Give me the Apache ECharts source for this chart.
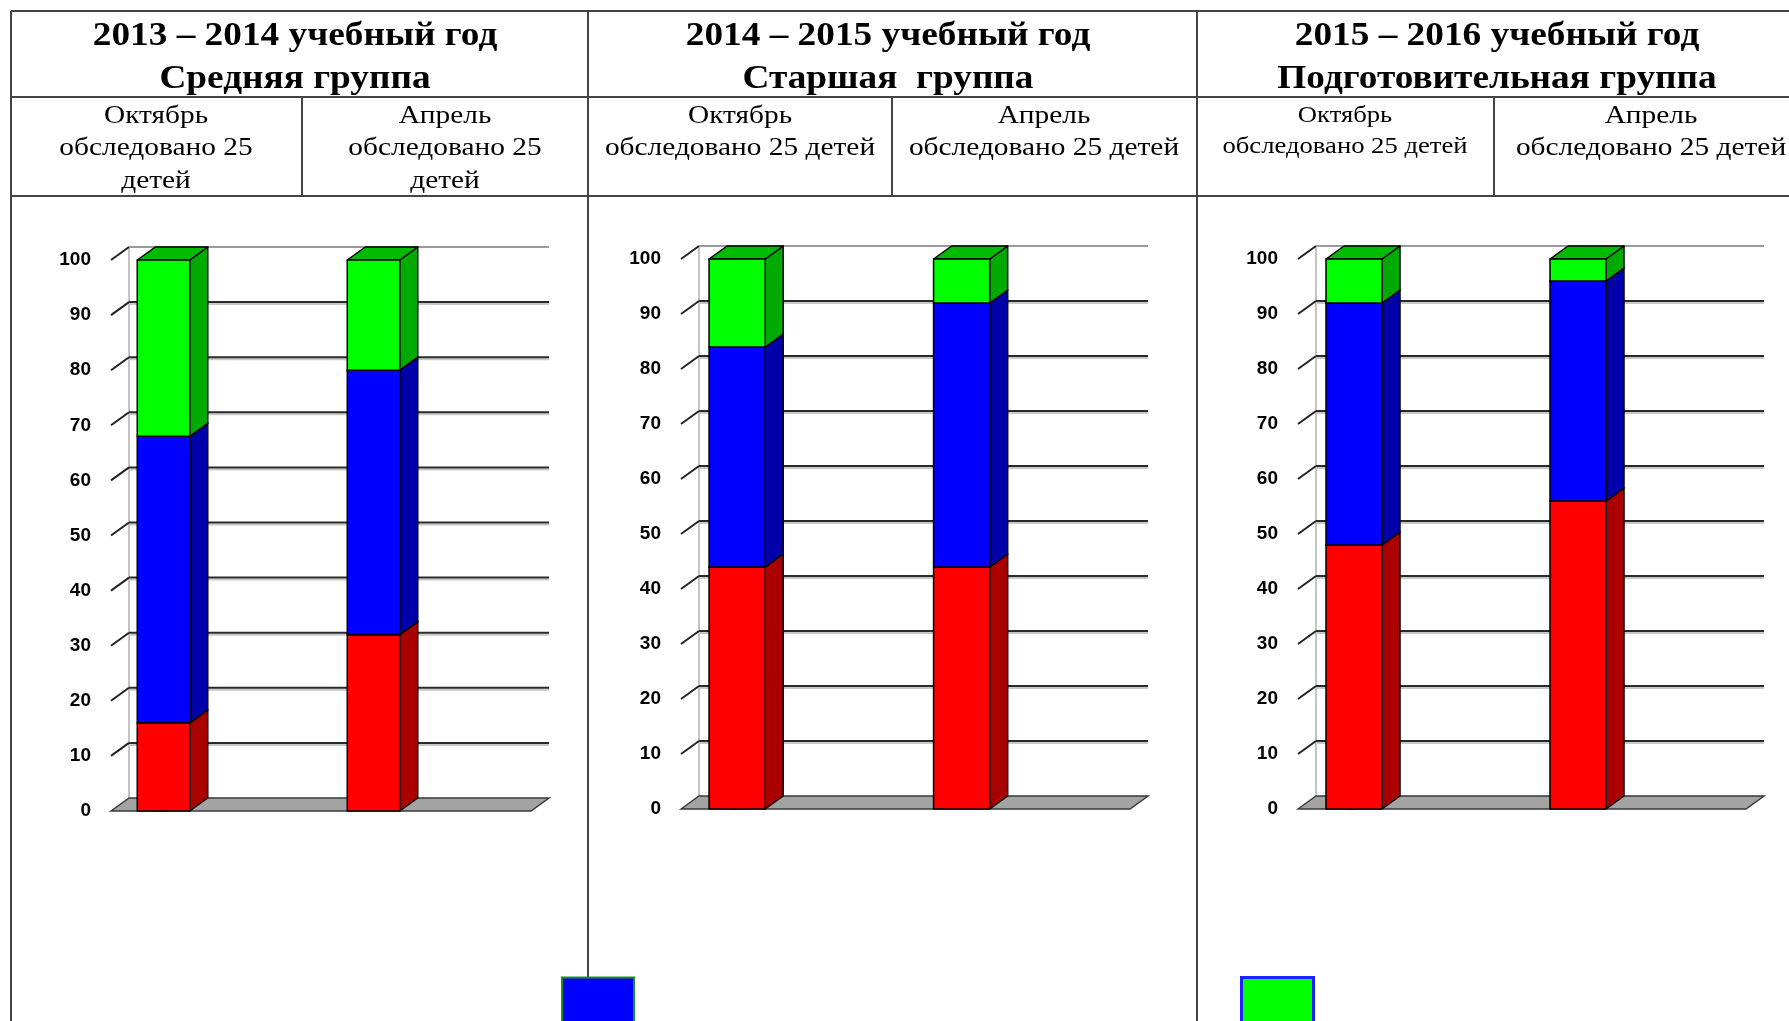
<!DOCTYPE html>
<html>
<head>
<meta charset="utf-8">
<script src="https://cdn.jsdelivr.net/npm/echarts@6/dist/echarts.min.js"></script>
<style>
html,body{margin:0;padding:0;background:#fff;}
#chart{width:1789px;height:1021px;}
</style>
</head>
<body>
<div id="chart"></div>
<script>
// ---------------- DATA ----------------
const categories = ['Октябрь', 'Апрель'];
const yearTitles = ['2013 – 2014 учебный год', '2014 – 2015 учебный год', '2015 – 2016 учебный год'];
const groupTitles = ['Средняя группа', 'Старшая  группа', 'Подготовительная группа'];
const examined = 'обследовано 25 детей';
const seriesNames = ['Высокий уровень', 'Средний уровень', 'Низкий уровень'];
const yTicks = [0, 10, 20, 30, 40, 50, 60, 70, 80, 90, 100];

// percentages (Октябрь, Апрель)
const red2013 = [16, 32];
const blue2013 = [52, 48];
const green2013 = [32, 20];

const red2014 = [44, 44];
const blue2014 = [40, 48];
const green2014 = [16, 8];

const red2015 = [48, 56];
const blue2015 = [44, 40];
const green2015 = [8, 4];

// ---------------- LAYOUT / STYLE ----------------
const DX = 18, DY = 13;
const X_MIN = -0.25, X_MAX = 1.75, BAR_W = 0.25;
const GRIDS = [
  {left: 111, top: 260, width: 420, height: 551},
  {left: 681, top: 259, width: 449, height: 550},
  {left: 1298, top: 259, width: 448, height: 550}
];
const COLORS = [
  {front: '#FF0000', side: '#AA0000', top: '#CC0000'},
  {front: '#0000FF', side: '#0000AA', top: '#0000CC'},
  {front: '#00FF00', side: '#00AA00', top: '#00BB00'}
];
const yearData = [
  [red2013, blue2013, green2013],
  [red2014, blue2014, green2014],
  [red2015, blue2015, green2015]
];

function wallRender(params, api) {
  const v = api.value(1);
  const p0 = api.coord([X_MIN, v]);
  const p1 = api.coord([X_MAX, v]);
  if (v === 0) {
    const pTop = api.coord([X_MIN, 100]);
    return {
      type: 'group',
      children: [
        {type: 'line', shape: {x1: p0[0] + DX, y1: p0[1] - DY, x2: pTop[0] + DX, y2: pTop[1] - DY},
          style: {stroke: '#b0b0b0', lineWidth: 1.5}},
        {type: 'polygon', shape: {points: [p0, [p0[0] + DX, p0[1] - DY], [p1[0] + DX, p1[1] - DY], p1]},
          style: {fill: '#a3a3a3', stroke: '#3a3a3a', lineWidth: 1.5}}
      ]
    };
  }
  const top = v === 100;
  return {
    type: 'group',
    children: [
      {type: 'polyline', shape: {points: [p0, [p0[0] + DX, p0[1] - DY]]},
        style: {stroke: '#222', lineWidth: 2, fill: null}},
      {type: 'line', shape: {x1: p0[0] + DX, y1: p0[1] - DY + 2, x2: p1[0] + DX, y2: p1[1] - DY + 2},
        style: {stroke: top ? 'rgba(0,0,0,0)' : '#c8c8c8', lineWidth: 2}},
      {type: 'line', shape: {x1: p0[0] + DX, y1: p0[1] - DY, x2: p1[0] + DX, y2: p1[1] - DY},
        style: {stroke: top ? '#9a9a9a' : '#2a2a2a', lineWidth: 2}}
    ]
  };
}

function barRender(c) {
  return function (params, api) {
    const x = api.value(0), b = api.value(1), t = api.value(2);
    const a = api.coord([x - BAR_W / 2, t]);
    const z = api.coord([x + BAR_W / 2, b]);
    const xl = a[0], yt = a[1], xr = z[0], yb = z[1];
    const st = {stroke: '#000', lineWidth: 1.5, lineJoin: 'round'};
    return {
      type: 'group',
      children: [
        {type: 'polygon', shape: {points: [[xr, yb], [xr + DX, yb - DY], [xr + DX, yt - DY], [xr, yt]]},
          style: Object.assign({fill: c.side}, st)},
        {type: 'polygon', shape: {points: [[xl, yt], [xl + DX, yt - DY], [xr + DX, yt - DY], [xr, yt]]},
          style: Object.assign({fill: c.top}, st)},
        {type: 'rect', shape: {x: xl, y: yt, width: xr - xl, height: yb - yt},
          style: Object.assign({fill: c.front}, st)}
      ]
    };
  };
}

const grid = [], xAxis = [], yAxis = [], series = [];
GRIDS.forEach((g, i) => {
  grid.push(Object.assign({containLabel: false, outerBoundsMode: 'none'}, g));
  xAxis.push({type: 'value', gridIndex: i, min: X_MIN, max: X_MAX, show: false});
  yAxis.push({
    type: 'value', gridIndex: i, min: 0, max: 100, interval: 10,
    axisLine: {show: true, lineStyle: {color: '#222', width: 2}},
    axisTick: {show: true, length: 5, lineStyle: {color: '#222', width: 2}},
    axisLabel: {color: '#000', fontWeight: 'bold', fontSize: 19, fontFamily: 'Liberation Sans', margin: 20},
    splitLine: {show: false}
  });
  series.push({
    type: 'custom', xAxisIndex: i, yAxisIndex: i, silent: true, z: 1,
    data: yTicks.map(v => [X_MIN, v]), encode: {x: 0, y: 1},
    renderItem: wallRender
  });
  const segs = yearData[i];
  const base = categories.map(() => 0);
  segs.forEach((vals, s) => {
    const data = categories.map((cat, k) => {
      const d = [k, base[k], base[k] + vals[k]];
      base[k] += vals[k];
      return d;
    });
    series.push({
      type: 'custom', name: seriesNames[s], xAxisIndex: i, yAxisIndex: i, z: 3,
      itemStyle: {color: COLORS[s].front},
      data: data, encode: {x: 0, y: [1, 2]},
      renderItem: barRender(COLORS[s])
    });
  });
});

// ---------------- TABLE ----------------
const LINE = {stroke: '#444', lineWidth: 2};
const graphic = [];
function hline(y, x1, x2) { graphic.push({type: 'line', shape: {x1: x1, y1: y, x2: x2, y2: y}, style: LINE, z: 10}); }
function vline(x, y1, y2) { graphic.push({type: 'line', shape: {x1: x, y1: y1, x2: x, y2: y2}, style: LINE, z: 10}); }
hline(11, 11, 1800); hline(97, 11, 1800); hline(196, 11, 1800);
vline(11, 11, 1021); vline(588, 11, 1021); vline(1197, 11, 1021);
vline(302, 97, 196); vline(892, 97, 196); vline(1494, 97, 196);

function text(str, x, y, font, sx) {
  graphic.push({type: 'text', x: x, y: y, z: 10, scaleX: sx,
    style: {text: str, fill: '#000', font: font, textAlign: 'center', textVerticalAlign: 'middle'}});
}
const TITLE_FONT = 'bold 33px "Liberation Serif"';
const SUB_FONT = '26px "Liberation Serif"';
const SUB_FONT_S = '24px "Liberation Serif"';
const colCenters = [295, 888, 1497];
yearTitles.forEach((t, i) => {
  text(t, colCenters[i], 36, TITLE_FONT, 1.13);
  text(groupTitles[i], colCenters[i], 79, TITLE_FONT, 1.13);
});
// sub headers
const parts = examined.split(' ');
const S = 1.13;
text(categories[0], 156, 116, SUB_FONT, S);
text(parts[0] + ' ' + parts[1], 156, 148, SUB_FONT, S);
text(parts[2], 156, 181, SUB_FONT, S);
text(categories[1], 445, 116, SUB_FONT, S);
text(parts[0] + ' ' + parts[1], 445, 148, SUB_FONT, S);
text(parts[2], 445, 181, SUB_FONT, S);
text(categories[0], 740, 116, SUB_FONT, S);
text(examined, 740, 148, SUB_FONT, S);
text(categories[1], 1044, 116, SUB_FONT, S);
text(examined, 1044, 148, SUB_FONT, S);
text(categories[0], 1345, 116, SUB_FONT_S, 1.11);
text(examined, 1345, 147, SUB_FONT_S, 1.11);
text(categories[1], 1651, 116, SUB_FONT, S);
text(examined, 1651, 148, SUB_FONT, S);

const chart = echarts.init(document.getElementById('chart'), null, {renderer: 'canvas'});
chart.setOption({
  backgroundColor: '#fff',
  animation: false,
  grid: grid, xAxis: xAxis, yAxis: yAxis, series: series,
  graphic: graphic,
  legend: {
    left: 561, top: 976, orient: 'horizontal', selectedMode: false,
    itemWidth: 72, itemHeight: 60, itemGap: 605, icon: 'rect',
    formatter: () => '', padding: 0, z: 20,
    data: [
      {name: seriesNames[1], itemStyle: {color: '#0000FF', borderColor: '#1f8f1f', borderWidth: 2}},
      {name: seriesNames[2], itemStyle: {color: '#00FF00', borderColor: '#1f1fff', borderWidth: 3}}
    ]
  }
});
</script>
</body>
</html>
